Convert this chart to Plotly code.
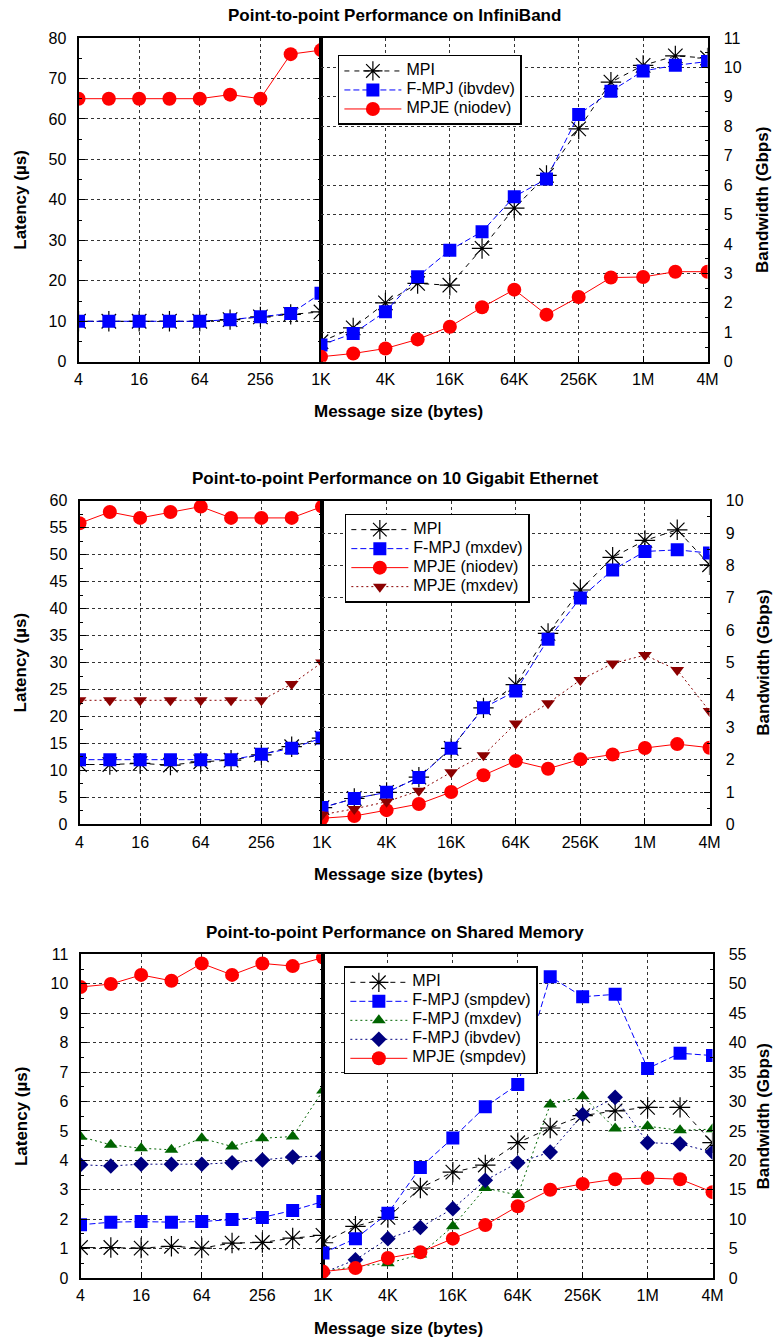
import math
import plotly.graph_objects as go

W, H = 781, 1338
# the photographed picture maps page px -> picture px as x' = 3 + 0.987 x, y' = 6 + 0.988 y;
# geometry below is given in picture pixels and mapped back to page pixels.
SX, OX = 0.987, 3.0
SY, OY = 0.988, 6.0

# ---------------- data ----------------
lat_sizes = [4, 8, 16, 32, 64, 128, 256, 512, 1024]
bw_sizes = [1024, 2048, 4096, 8192, 16384, 32768, 65536, 131072, 262144,
            524288, 1048576, 2097152, 4194304]

lat_tickvals = [4, 16, 64, 256, 1024]
lat_ticktext = ["4", "16", "64", "256", "1K"]
bw_tickvals = [4096, 16384, 65536, 262144, 1048576, 4194304]
bw_ticktext = ["4K", "16K", "64K", "256K", "1M", "4M"]

# InfiniBand
ib_lat_mpi = [10, 10, 10, 10, 10, 10.4, 11.1, 11.7, 12.3]
ib_lat_fmpj = [10, 10, 10, 10, 10, 10.4, 11.1, 11.9, 16.9]
ib_lat_mpje = [65, 65, 65, 65, 65, 66, 65, 76, 77]
ib_bw_mpi = [0.68, 1.15, 2.0, 2.66, 2.6, 3.85, 5.22, 6.33, 7.91, 9.5, 10.07, 10.39, 10.32]
ib_bw_fmpj = [0.57, 0.96, 1.7, 2.89, 3.79, 4.42, 5.61, 6.21, 8.4, 9.19, 9.88, 10.07, 10.2]
ib_bw_mpje = [0.17, 0.28, 0.45, 0.76, 1.19, 1.85, 2.45, 1.6, 2.2, 2.86, 2.88, 3.06, 3.06]

# 10 Gigabit Ethernet
ge_lat_mpi = [11.1, 11.1, 11.3, 11.0, 11.6, 11.9, 12.9, 14.4, 16.0]
ge_lat_fmpj = [12, 12, 12, 12, 12, 12, 13, 14.1, 16.0]
ge_lat_mpje_nio = [55.8, 57.9, 56.8, 57.9, 58.9, 56.8, 56.8, 56.8, 58.9]
ge_lat_mpje_mx = [23, 23, 23, 23, 23, 23, 23, 26, 30]
ge_bw_mpi = [0.52, 0.80, 0.99, 1.46, 2.35, 3.60, 4.32, 5.90, 7.24, 8.25, 8.77, 9.10, 8.02]
ge_bw_fmpj = [0.52, 0.80, 0.99, 1.45, 2.35, 3.60, 4.12, 5.72, 6.99, 7.86, 8.43, 8.48, 8.38]
ge_bw_mpje_nio = [0.19, 0.26, 0.44, 0.63, 1.0, 1.52, 1.96, 1.72, 2.01, 2.16, 2.36, 2.48, 2.37]
ge_bw_mpje_mx = [0.3, 0.48, 0.70, 1.04, 1.61, 2.14, 3.12, 3.74, 4.46, 4.97, 5.23, 4.77, 3.50]

# Shared Memory
sm_lat_mpi = [1.04, 1.04, 1.02, 1.08, 1.02, 1.19, 1.21, 1.36, 1.45]
sm_lat_fmpj_smp = [1.81, 1.90, 1.92, 1.90, 1.92, 1.99, 2.06, 2.30, 2.60]
sm_lat_fmpj_mx = [4.80, 4.53, 4.41, 4.36, 4.75, 4.47, 4.75, 4.81, 6.37]
sm_lat_fmpj_ib = [3.85, 3.81, 3.87, 3.87, 3.87, 3.92, 4.01, 4.11, 4.15]
sm_lat_mpje = [9.89, 9.99, 10.30, 10.10, 10.69, 10.30, 10.69, 10.60, 10.89]
sm_bw_mpi = [6.0, 8.8, 10.3, 15.3, 18.0, 19.2, 23.0, 25.5, 27.6, 28.4, 29.0, 29.0, 23.0]
sm_bw_fmpj_smp = [4.25, 6.7, 11.0, 18.8, 23.8, 29.1, 32.9, 51.2, 47.8, 48.2, 35.6, 38.2, 37.8]
sm_bw_fmpj_mx = [1.1, 2.0, 2.5, 4.0, 8.8, 15.3, 14.1, 29.5, 30.9, 25.4, 25.8, 25.1, 25.3]
sm_bw_fmpj_ib = [0.9, 3.1, 6.7, 8.6, 11.8, 16.6, 19.6, 21.4, 27.8, 30.7, 23.0, 22.8, 21.4]
sm_bw_mpje = [1.1, 1.7, 3.4, 4.4, 6.7, 9.0, 12.2, 15.0, 16.0, 16.8, 17.0, 16.8, 14.6]

titles = ["Point-to-point Performance on InfiniBand",
          "Point-to-point Performance on 10 Gigabit Ethernet",
          "Point-to-point Performance on Shared Memory"]

# ---------------- styles ----------------
FONT = "Liberation Sans, Arial, Helvetica, sans-serif"
STY = {
    "mpi": dict(color="black", dash="5px,5px", symbol="asterisk-open", size=17, mcolor="black"),
    "fmpj": dict(color="#0000ff", dash="6px,3px", symbol="square", size=13, mcolor="#0000ff"),
    "mpje": dict(color="#ff0000", dash="solid", symbol="circle", size=14, mcolor="#ff0000"),
    "mpje_mx": dict(color="#8b0000", dash="2px,3px", symbol="triangle-down", size=12, mcolor="#8b0000"),
    "fmpj_mx": dict(color="#006400", dash="2px,3px", symbol="triangle-up", size=12, mcolor="#006400"),
    "fmpj_ib": dict(color="#000080", dash="2px,3px", symbol="diamond", size=12, mcolor="#000080"),
}

series = [
    [("MPI", "mpi", ib_lat_mpi, ib_bw_mpi),
     ("F-MPJ (ibvdev)", "fmpj", ib_lat_fmpj, ib_bw_fmpj),
     ("MPJE (niodev)", "mpje", ib_lat_mpje, ib_bw_mpje)],
    [("MPI", "mpi", ge_lat_mpi, ge_bw_mpi),
     ("F-MPJ (mxdev)", "fmpj", ge_lat_fmpj, ge_bw_fmpj),
     ("MPJE (niodev)", "mpje", ge_lat_mpje_nio, ge_bw_mpje_nio),
     ("MPJE (mxdev)", "mpje_mx", ge_lat_mpje_mx, ge_bw_mpje_mx)],
    [("MPI", "mpi", sm_lat_mpi, sm_bw_mpi),
     ("F-MPJ (smpdev)", "fmpj", sm_lat_fmpj_smp, sm_bw_fmpj_smp),
     ("F-MPJ (mxdev)", "fmpj_mx", sm_lat_fmpj_mx, sm_bw_fmpj_mx),
     ("F-MPJ (ibvdev)", "fmpj_ib", sm_lat_fmpj_ib, sm_bw_fmpj_ib),
     ("MPJE (smpdev)", "mpje", sm_lat_mpje, sm_bw_mpje)],
]

# geometry in picture pixels: left edge, 1K line, right edge, top, bottom
geo = [
    dict(x0=78, xm=322, x1=711, top=36, bot=360, lat=(0, 80, 10, 5), bw=(0, 11, 1, 0.5),
         leg=(339, 53)),
    dict(x0=79, xm=323, x1=713, top=499, bot=823, lat=(0, 60, 5, 2.5), bw=(0, 10, 1, 0.5),
         leg=(346, 512)),
    dict(x0=80, xm=324, x1=716, top=953, bot=1277, lat=(0, 11, 1, 0.5), bw=(0, 55, 5, 2.5),
         leg=(345, 965)),
]

fig = go.Figure()
layout = dict(width=W, height=H, margin=dict(l=0, r=0, t=0, b=0),
              plot_bgcolor="white", paper_bgcolor="white", showlegend=True,
              font=dict(family=FONT, color="black"))
annotations = []


def fx(p):
    return ((p - OX) / SX) / W


def fy(p):
    return 1 - ((p - OY) / SY) / H


axis_base = dict(showline=True, linecolor="black", linewidth=2, ticks="inside",
                 tickcolor="black", ticklen=6, tickwidth=1, showgrid=True,
                 gridcolor="#333", griddash="dot", gridwidth=1, zeroline=False,
                 tickfont=dict(family=FONT, size=16, color="black"))

for i, (g, ser) in enumerate(zip(geo, series)):
    xl, xr = 2 * i + 1, 2 * i + 2
    xl_name = "xaxis" if xl == 1 else f"xaxis{xl}"
    yl_name = "yaxis" if xl == 1 else f"yaxis{xl}"
    xr_name = f"xaxis{xr}"
    yr_name = f"yaxis{xr}"
    xl_ref = "x" if xl == 1 else f"x{xl}"
    yl_ref = "y" if xl == 1 else f"y{xl}"
    xr_ref = f"x{xr}"
    yr_ref = f"y{xr}"
    legname = "legend" if i == 0 else f"legend{i + 1}"

    for name, key, lat, bw in ser:
        s = STY[key]
        mk = dict(symbol=s["symbol"], size=s["size"], color=s["mcolor"])
        if s["symbol"] == "asterisk-open":
            mk["line"] = dict(color="black", width=1.2)
        else:
            mk["line"] = dict(width=0)
        ln = dict(color=s["color"], width=1, dash=s["dash"])
        fig.add_trace(go.Scatter(x=lat_sizes, y=lat, mode="lines+markers", name=name,
                                 line=ln, marker=mk, xaxis=xl_ref, yaxis=yl_ref,
                                 showlegend=False, legend=legname))
        fig.add_trace(go.Scatter(x=bw_sizes, y=bw, mode="lines+markers",
                                 name='<span style="font-size:16px">' + name + '</span>',
                                 line=ln, marker=mk, xaxis=xr_ref, yaxis=yr_ref,
                                 showlegend=True, legend=legname))

    ydom = [fy(g["bot"]), fy(g["top"])]
    layout[xl_name] = dict(axis_base, type="log", domain=[fx(g["x0"]), fx(g["xm"])],
                           range=[math.log10(4), math.log10(1024)], anchor=yl_ref,
                           tickvals=lat_tickvals, ticktext=lat_ticktext, mirror=True,
                           ticklabelstandoff=2)
    layout[xr_name] = dict(axis_base, type="log", domain=[fx(g["xm"]), fx(g["x1"])],
                           range=[math.log10(1024), math.log10(4194304)], anchor=yr_ref,
                           tickvals=bw_tickvals, ticktext=bw_ticktext, mirror=True,
                           ticklabelstandoff=2)
    lo, hi, dt, mdt = g["lat"]
    layout[yl_name] = dict(axis_base, domain=ydom, range=[lo, hi], dtick=dt, tick0=0,
                           anchor=xl_ref, side="left", mirror="ticks",
                           ticklabelstandoff=7,
                           minor=dict(ticks="inside", ticklen=3, dtick=mdt, tick0=0,
                                      tickcolor="black", showgrid=False))
    lo, hi, dt, mdt = g["bw"]
    layout[yr_name] = dict(axis_base, domain=ydom, range=[lo, hi], dtick=dt, tick0=0,
                           anchor=xr_ref, side="right", mirror=True,
                           ticklabelstandoff=11,
                           minor=dict(ticks="inside", ticklen=3, dtick=mdt, tick0=0,
                                      tickcolor="black", showgrid=False))
    lx, ly = g["leg"]
    layout[legname] = dict(x=fx(lx), y=fy(ly), xanchor="left", yanchor="top",
                           xref="paper", yref="paper",
                           bordercolor="black", borderwidth=1.5, bgcolor="white",
                           font=dict(family=FONT, size=10, color="black"),
                           tracegroupgap=0, itemwidth=57)

    title_y = g["top"] - 22
    annotations.append(dict(text="<b>" + titles[i] + "</b>", x=fx(396), y=fy(title_y),
                            xref="paper", yref="paper", showarrow=False,
                            font=dict(family=FONT, size=17, color="black"),
                            xanchor="center", yanchor="middle"))
    annotations.append(dict(text="<b>Message size (bytes)</b>", x=fx(400), y=fy(g["bot"] + 50),
                            xref="paper", yref="paper", showarrow=False,
                            font=dict(family=FONT, size=17, color="black"),
                            xanchor="center", yanchor="middle"))
    mid = (g["top"] + g["bot"]) / 2
    annotations.append(dict(text="<b>Latency (µs)</b>", x=fx(20), y=fy(mid),
                            xref="paper", yref="paper", showarrow=False, textangle=-90,
                            font=dict(family=FONT, size=17, color="black"),
                            xanchor="center", yanchor="middle"))
    annotations.append(dict(text="<b>Bandwidth (Gbps)</b>", x=fx(767), y=fy(mid),
                            xref="paper", yref="paper", showarrow=False, textangle=-90,
                            font=dict(family=FONT, size=17, color="black"),
                            xanchor="center", yanchor="middle"))

layout["annotations"] = annotations
fig.update_layout(**layout)
fig.write_html(
    "out.html", config={"displayModeBar": False},
    post_script=("document.documentElement.style.margin='0';"
                 "document.documentElement.style.padding='0';"
                 "document.documentElement.style.overflow='hidden';"
                 "document.body.style.margin='0';document.body.style.padding='0';"
                 "document.body.style.overflow='hidden';"))
